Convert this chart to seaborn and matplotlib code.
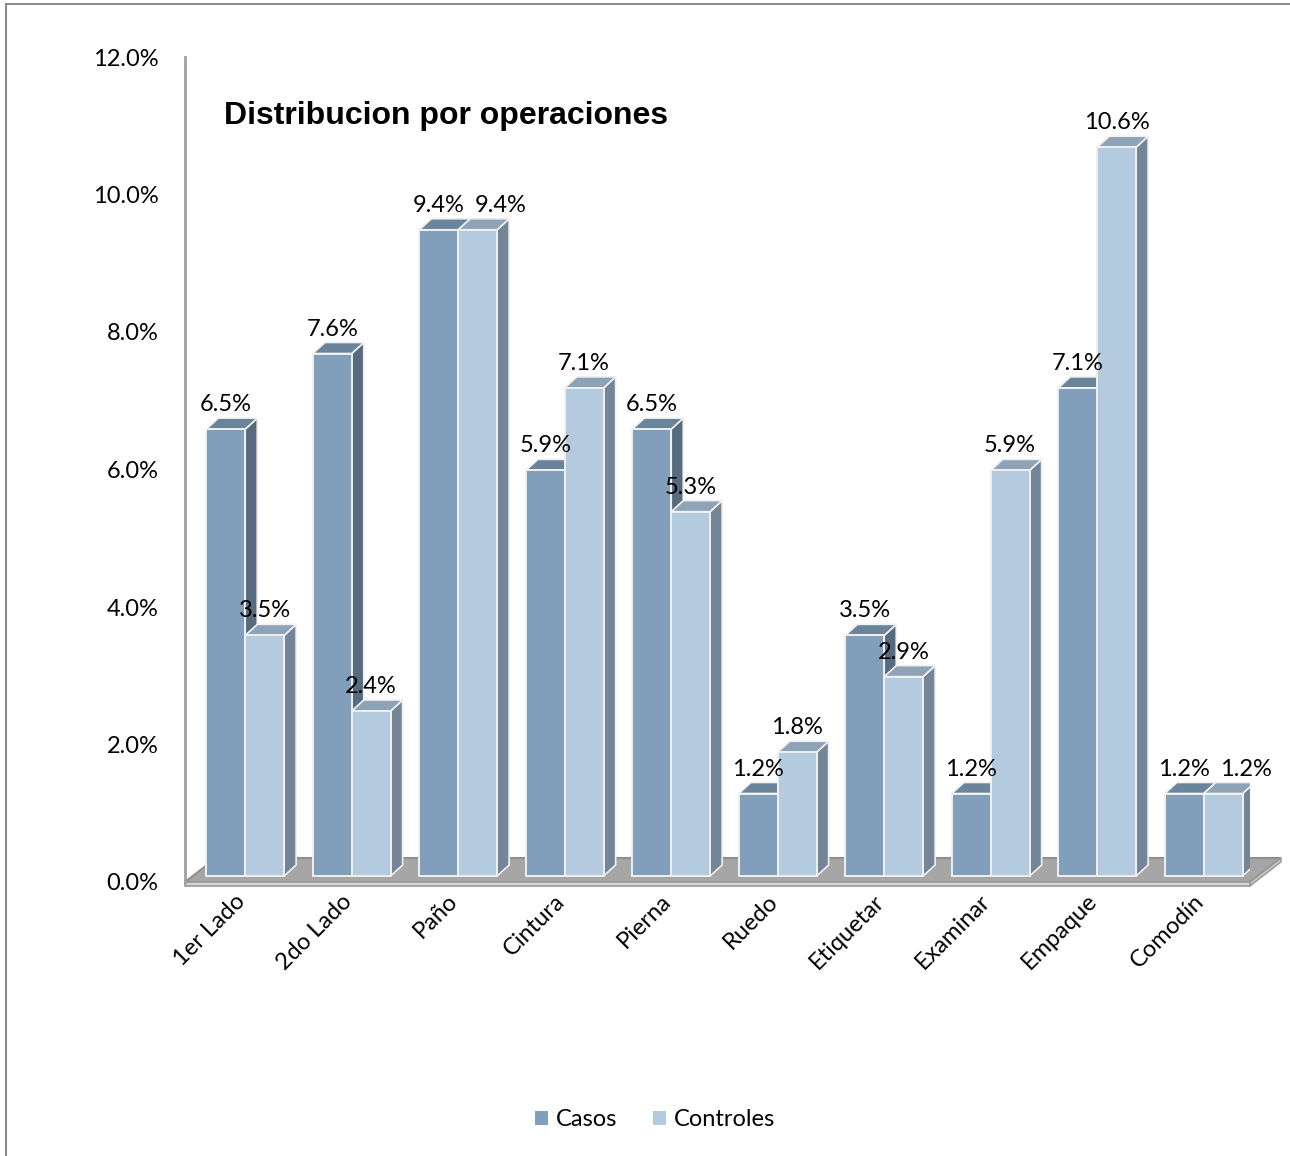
import matplotlib
matplotlib.use("Agg")
import matplotlib.pyplot as plt
import pandas as pd
import seaborn as sns
from matplotlib.patches import Polygon, Rectangle
from matplotlib.transforms import ScaledTranslation

# ---- data -------------------------------------------------------------
categorias = ["1er Lado", "2do Lado", "Paño", "Cintura", "Pierna",
              "Ruedo", "Etiquetar", "Examinar", "Empaque", "Comodín"]
casos = [6.5, 7.6, 9.4, 5.9, 6.5, 1.2, 3.5, 1.2, 7.1, 1.2]
controles = [3.5, 2.4, 9.4, 7.1, 5.3, 1.8, 2.9, 5.9, 10.6, 1.2]
grupos = ["Casos", "Controles"]
y_ticks = [0, 2, 4, 6, 8, 10, 12]
titulo = "Distribucion por operaciones"

df = pd.DataFrame({
    "Operación": categorias * 2,
    "Porcentaje": casos + controles,
    "Grupo": [grupos[0]] * len(casos) + [grupos[1]] * len(controles),
})

# ---- style ------------------------------------------------------------
sns.set_theme(style="white")
plt.rcParams["font.family"] = ["Lato", "DejaVu Sans"]
plt.rcParams.update({"text.color": "black", "xtick.color": "black",
                     "ytick.color": "black", "axes.labelcolor": "black"})
FS = 17

front = {"Casos": "#819fba", "Controles": "#b4cadf"}
top = {"Casos": "#6a849b", "Controles": "#8fa3b6"}
side = {"Casos": "#566b7e", "Controles": "#748597"}
edge = "#f0f0f0"

W, H, DPI = 1290, 1156, 100
fig = plt.figure(figsize=(W / DPI, H / DPI), dpi=DPI)
ax = fig.add_axes([185 / W, 1 - 882 / H, 1065 / W, 825 / H])

sns.barplot(data=df, x="Operación", y="Porcentaje", hue="Grupo",
            hue_order=grupos, order=categorias, palette=front,
            saturation=1, width=0.73, edgecolor=edge, linewidth=1.4,
            legend=False, ax=ax)

ax.set_xlim(-0.5, len(categorias) - 0.5)
ax.set_ylim(y_ticks[0], y_ticks[-1])
ax.set_xlabel("")
ax.set_ylabel("")

# pixel -> data conversion for the oblique projection
px_x = ax.bbox.width / (ax.get_xlim()[1] - ax.get_xlim()[0])
px_y = ax.bbox.height / (ax.get_ylim()[1] - ax.get_ylim()[0])

# bars sit a little behind the front edge of the floor
shift = ScaledTranslation(7 / DPI, 6 / DPI, fig.dpi_scale_trans)
bar_tr = ax.transData + shift
ddx, ddy = 12 / px_x, 11 / px_y  # bar depth

n = len(categorias)
patches = list(ax.patches)
for i, p in enumerate(patches):
    gi = i // n
    g = grupos[gi]
    z = 2 + gi
    x0, w, h = p.get_x(), p.get_width(), p.get_height()
    p.set_transform(bar_tr)
    p.set_zorder(z + 0.5)
    side_face = Polygon([(x0 + w, 0), (x0 + w + ddx, ddy),
                         (x0 + w + ddx, h + ddy), (x0 + w, h)],
                        closed=True, facecolor=side[g], edgecolor=edge,
                        linewidth=1.2, transform=bar_tr, zorder=z)
    top_face = Polygon([(x0, h), (x0 + w, h), (x0 + w + ddx, h + ddy),
                        (x0 + ddx, h + ddy)],
                       closed=True, facecolor=top[g], edgecolor=edge,
                       linewidth=1.2, transform=bar_tr, zorder=z + 0.2)
    ax.add_patch(side_face)
    ax.add_patch(top_face)
    # push a label sideways when it would collide with its neighbour's
    dx_lab = 0
    if gi == 1 and abs(h - patches[i - n].get_height()) < 0.3:
        dx_lab = 23
    ax.annotate(f"{h:.1f}%", xy=(x0 + w / 2, h), xycoords=bar_tr,
                xytext=(dx_lab * 0.72, 18 * 0.72), textcoords="offset points",
                ha="center", va="baseline", fontsize=FS, color="black",
                zorder=10, annotation_clip=False)

# floor
fdx, fdy = 31 / px_x, 24 / px_y
xa, xb = ax.get_xlim()
floor = Polygon([(xa, 0), (xb, 0), (xb + fdx, fdy), (xa + fdx, fdy)],
                closed=True, facecolor="#a6a6a6", edgecolor="#8f8f8f",
                linewidth=1.5, zorder=1, clip_on=False)
ax.add_patch(floor)
slab_h = 4 / px_y
slab = Polygon([(xa, 0), (xb, 0), (xb, -slab_h), (xa, -slab_h)],
               closed=True, facecolor="#d4d4d4", edgecolor="#999999",
               linewidth=1.2, zorder=1.1, clip_on=False)
ax.add_patch(slab)
slab_side = Polygon([(xb, 0), (xb + fdx, fdy), (xb + fdx, fdy - slab_h),
                     (xb, -slab_h)],
                    closed=True, facecolor="#c4c4c4", edgecolor="#999999",
                    linewidth=1.0, zorder=1.1, clip_on=False)
ax.add_patch(slab_side)

# axes cosmetics
for s in ["top", "right", "bottom"]:
    ax.spines[s].set_visible(False)
ax.spines["left"].set_color("#a0a0a0")
ax.spines["left"].set_linewidth(2)
ax.grid(False)

ax.set_yticks(y_ticks)
ax.set_yticklabels([f"{v:.1f}%" for v in y_ticks], fontsize=FS)
ax.tick_params(axis="y", length=0, pad=19)
ax.set_xticks(range(n))
ax.set_xticklabels(categorias, rotation=45, ha="right",
                   rotation_mode="anchor", fontsize=FS)
ax.tick_params(axis="x", length=0, pad=6)
xshift = ScaledTranslation(-4 / DPI, 0, fig.dpi_scale_trans)
for lab in ax.get_xticklabels():
    lab.set_transform(lab.get_transform() + xshift)

fig.text(224 / W, 1 - 116 / H, titulo, fontsize=23, fontweight="bold",
         family="Liberation Sans", color="black", ha="left", va="center")

handles = [Rectangle((0, 0), 1, 1, facecolor=front[g], edgecolor="none")
           for g in grupos]
fig.legend(handles, grupos, loc="center", ncol=2, frameon=False,
           bbox_to_anchor=(655 / W, 1 - 1120 / H), fontsize=FS,
           handlelength=0.55, handleheight=0.55, handletextpad=0.35,
           columnspacing=1.5)

# chart frame
fig.add_artist(Rectangle((6 / W, -0.05), 1.1, 1.05 - 4 / H,
                         transform=fig.transFigure, fill=False,
                         edgecolor="#8c8c8c", linewidth=1.5))

fig.savefig("out.png", dpi=DPI, facecolor="white")
